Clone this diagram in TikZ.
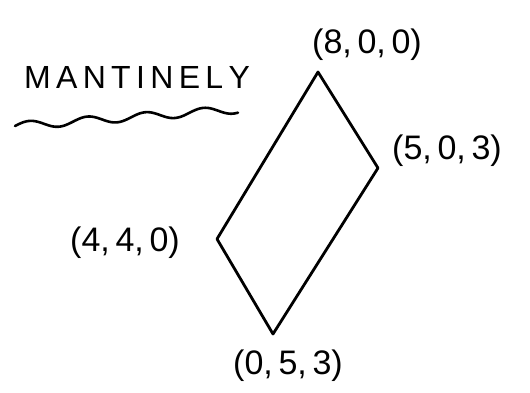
\documentclass[tikz,border=0pt]{standalone}
\usepackage{fontspec}
\setmainfont{Liberation Sans}
\begin{document}
\begin{tikzpicture}[x=1pt,y=-1pt,
  lbl/.style={font=\fontsize{34}{38}\selectfont, inner sep=0pt},
  edge/.style={line width=2.8pt, line join=round, line cap=round}]
\useasboundingbox (0,0) rectangle (530,393);
\coordinate (top) at (318,72);
\coordinate (right) at (378,168);
\coordinate (bottom) at (273,334);
\coordinate (left) at (217,239);
\draw[edge] (top) -- (right) -- (bottom) -- (left) -- cycle;
\node[lbl] (ltop) at (367,45) {(8,\,0,\,0)};
\node[lbl] (lright) at (447,151) {(5,\,0,\,3)};
\node[lbl] (lleft) at (125,243) {(4,\,4,\,0)};
\node[lbl] (lbottom) at (288,366) {(0,\,5,\,3)};
\node[lbl, font=\fontsize{32}{36}\selectfont] (title) at (137,77) {M\,A\,N\,T\,I\,N\,E\,L\,Y};
\draw[line width=2.6pt, line cap=round, domain=0:223, samples=150, smooth]
  plot ({15+\x}, {126 - 0.075*\x - 4*sin(\x*6.2)});
\end{tikzpicture}
\end{document}
